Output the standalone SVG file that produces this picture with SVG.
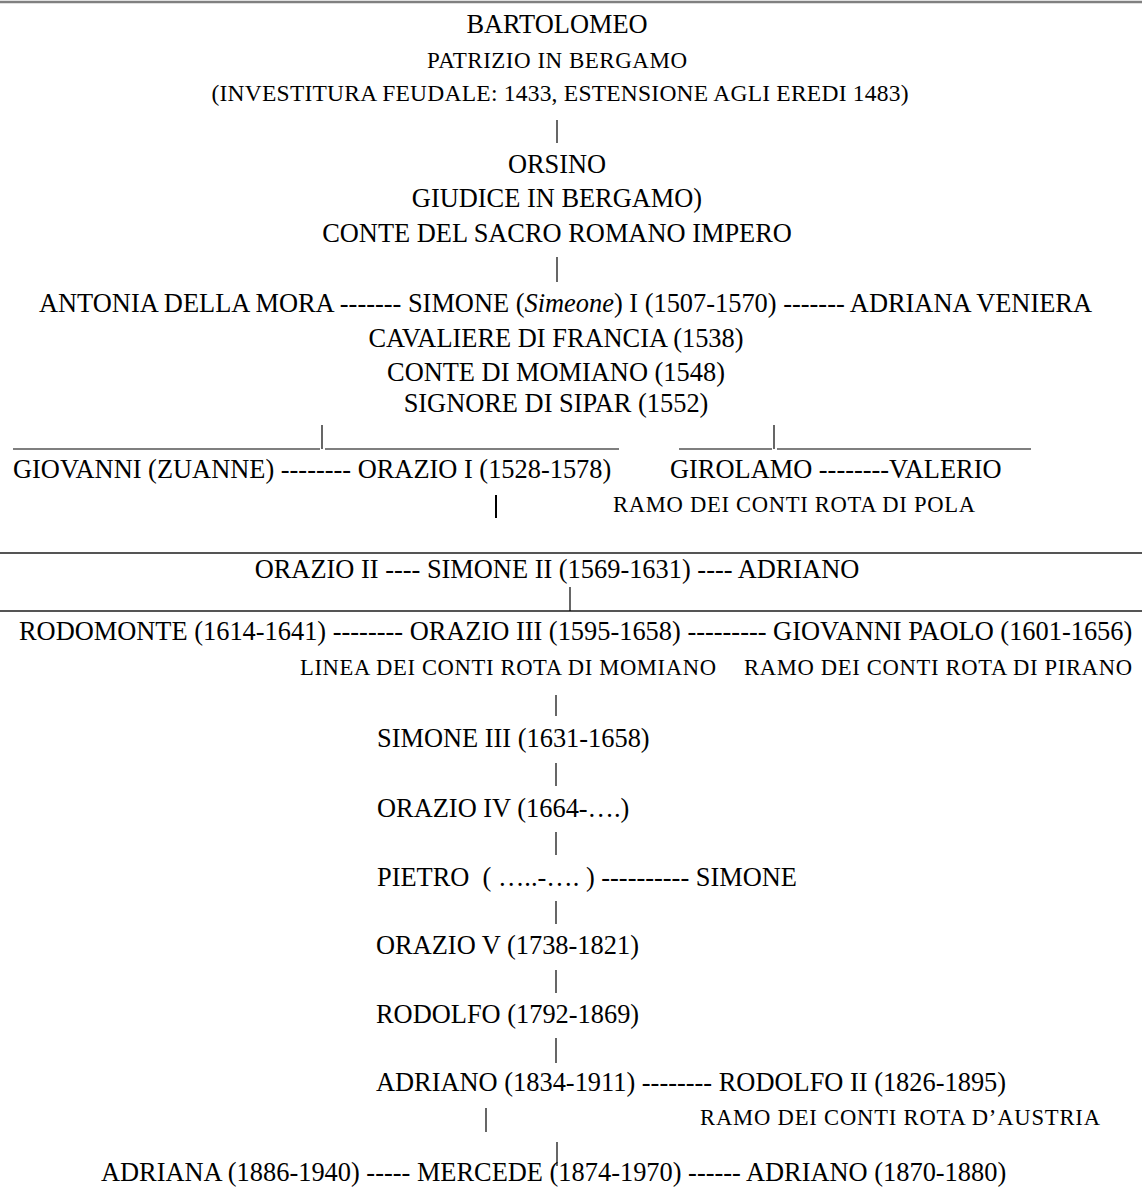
<svg xmlns="http://www.w3.org/2000/svg" width="1142" height="1187" viewBox="0 0 1142 1187">
<style>
text{font-family:"Liberation Serif","Times New Roman",serif;fill:#000}
.m{font-size:26.4px}
.s{font-size:22.6px}
.c{text-anchor:middle}
.ln{stroke:#000;stroke-width:1.2;fill:none}
.rule{stroke:#555;stroke-width:2;fill:none}
</style>
<rect width="1142" height="1187" fill="#fff"/>
<g id="rules">
<line class="rule" x1="0" y1="2" x2="1142" y2="2" style="stroke:#808080;stroke-width:2.5"/>
<line class="rule" x1="0" y1="553" x2="1142" y2="553"/>
<line class="rule" x1="0" y1="611" x2="1142" y2="611"/>
</g>
<g id="connectors">
<line class="ln" x1="557" y1="120" x2="557" y2="143"/>
<line class="ln" x1="557" y1="257" x2="557" y2="282"/>
<line class="ln" x1="13" y1="449" x2="320" y2="449"/>
<line class="ln" x1="322" y1="425" x2="322" y2="449"/>
<line class="ln" x1="325" y1="449" x2="619" y2="449"/>
<line class="ln" x1="679" y1="449" x2="772" y2="449"/>
<line class="ln" x1="774" y1="425" x2="774" y2="449"/>
<line class="ln" x1="777" y1="449" x2="1031" y2="449"/>
<line class="ln" x1="496" y1="495" x2="496" y2="518" style="stroke-width:2"/>
<line class="ln" x1="570" y1="587" x2="570" y2="611"/>
<line class="ln" x1="556" y1="695" x2="556" y2="716"/>
<line class="ln" x1="556" y1="763" x2="556" y2="786"/>
<line class="ln" x1="556" y1="832" x2="556" y2="855"/>
<line class="ln" x1="556" y1="901" x2="556" y2="924"/>
<line class="ln" x1="556" y1="970" x2="556" y2="993"/>
<line class="ln" x1="556" y1="1038" x2="556" y2="1063"/>
<line class="ln" x1="486" y1="1108" x2="486" y2="1132"/>
<line class="ln" x1="557" y1="1142" x2="557" y2="1166"/>
</g>
<g id="bartolomeo">
<text class="m c" x="557" y="33">BARTOLOMEO</text>
<text class="c" x="557" y="68" font-size="23" textLength="260" lengthAdjust="spacing">PATRIZIO IN BERGAMO</text>
<text class="c" x="560" y="101" font-size="23.5" textLength="697" lengthAdjust="spacing">(INVESTITURA FEUDALE: 1433, ESTENSIONE AGLI EREDI 1483)</text>
</g>
<g id="orsino">
<text class="m c" x="557" y="173">ORSINO</text>
<text class="m c" x="557" y="207">GIUDICE IN BERGAMO)</text>
<text class="m c" x="557" y="242">CONTE DEL SACRO ROMANO IMPERO</text>
</g>
<g id="simone-i">
<text class="m" x="39" y="312">ANTONIA DELLA MORA ------- SIMONE (<tspan font-style="italic">Simeone</tspan>) I (1507-1570) ------- ADRIANA VENIERA</text>
<text class="m c" x="556" y="347">CAVALIERE DI FRANCIA (1538)</text>
<text class="m c" x="556" y="381">CONTE DI MOMIANO (1548)</text>
<text class="m c" x="556" y="412">SIGNORE DI SIPAR (1552)</text>
</g>
<g id="giovanni-orazio-i">
<text class="m" x="13" y="478">GIOVANNI (ZUANNE) -------- ORAZIO I (1528-1578)</text>
</g>
<g id="girolamo-valerio">
<text class="m" x="670" y="478">GIROLAMO --------VALERIO</text>
<text class="s" x="613" y="512" textLength="362" lengthAdjust="spacing">RAMO DEI CONTI ROTA DI POLA</text>
</g>
<g id="simone-ii">
<text class="m c" x="557" y="578">ORAZIO II ---- SIMONE II (1569-1631) ---- ADRIANO</text>
</g>
<g id="orazio-iii">
<text class="m" x="19" y="640">RODOMONTE (1614-1641) -------- ORAZIO III (1595-1658) --------- GIOVANNI PAOLO (1601-1656)</text>
<text class="s" x="300" y="675" textLength="416" lengthAdjust="spacing">LINEA DEI CONTI ROTA DI MOMIANO</text>
<text class="s" x="744" y="675" textLength="388" lengthAdjust="spacing">RAMO DEI CONTI ROTA DI PIRANO</text>
</g>
<g id="simone-iii"><text class="m" x="377" y="747">SIMONE III (1631-1658)</text></g>
<g id="orazio-iv"><text class="m" x="377" y="817">ORAZIO IV (1664-….)</text></g>
<g id="pietro"><text class="m" x="377" y="886" xml:space="preserve">PIETRO  ( …..-…. ) ---------- SIMONE</text></g>
<g id="orazio-v"><text class="m" x="376" y="954">ORAZIO V (1738-1821)</text></g>
<g id="rodolfo"><text class="m" x="376" y="1023">RODOLFO (1792-1869)</text></g>
<g id="adriano">
<text class="m" x="376" y="1091">ADRIANO (1834-1911) -------- RODOLFO II (1826-1895)</text>
<text class="s" x="700" y="1125" textLength="400" lengthAdjust="spacing">RAMO DEI CONTI ROTA D’AUSTRIA</text>
</g>
<g id="mercede">
<text class="m" x="101" y="1181">ADRIANA (1886-1940) ----- MERCEDE (1874-1970) ------ ADRIANO (1870-1880)</text>
</g>
</svg>
